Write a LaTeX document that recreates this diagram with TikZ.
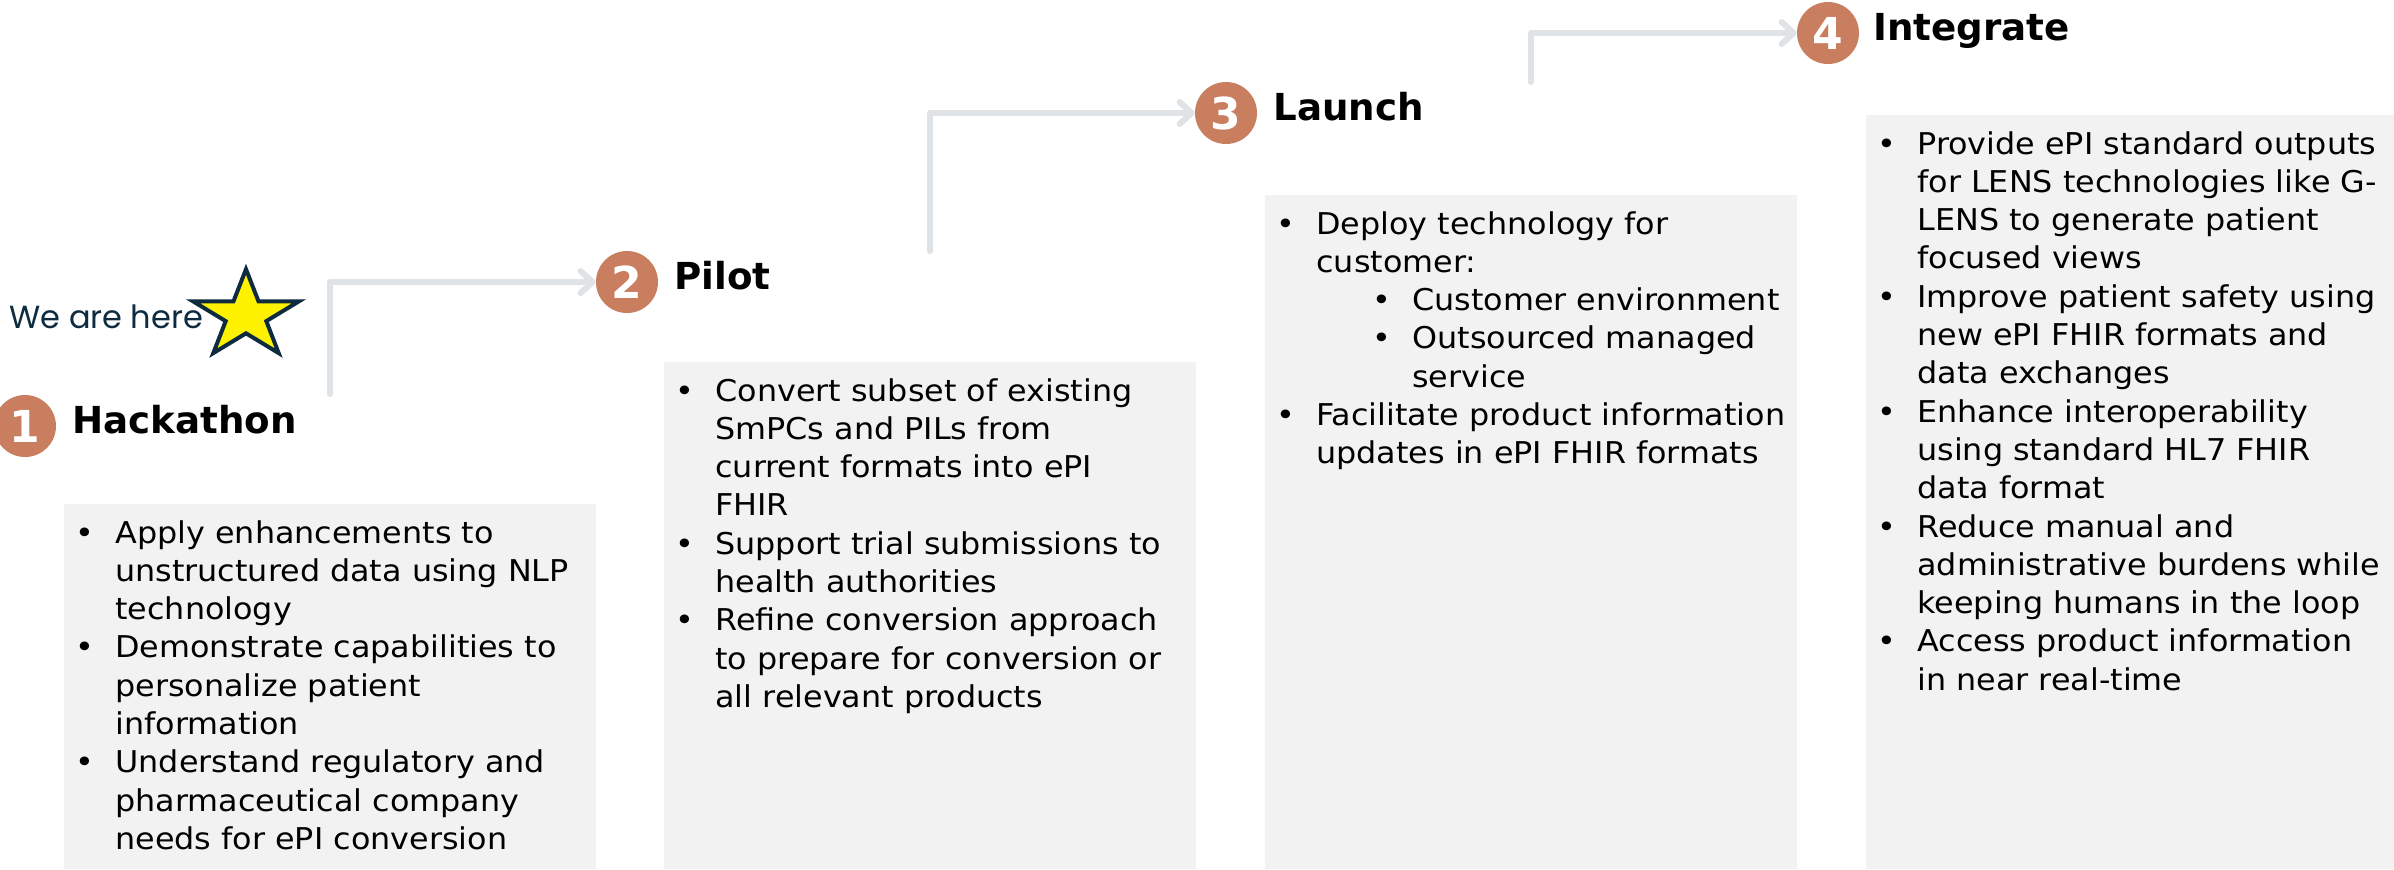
\documentclass[tikz,border=0pt]{standalone}
\usepackage{fontspec}
\setmainfont{DejaVu Sans}[FakeStretch=1.06]
\newfontfamily\headfont{DejaVu Sans}
\newfontfamily\herefont{Poppins}
\usetikzlibrary{arrows.meta}
\definecolor{terra}{HTML}{C97E60}
\definecolor{arrowgray}{HTML}{DFE3E6}
\definecolor{boxgray}{HTML}{F2F2F2}
\definecolor{navy}{HTML}{0E2B40}
\newcommand{\bl}{\par\hangindent=20pt\hangafter=1\noindent\makebox[20pt][l]{•}}
\newcommand{\sbl}{\par\hangindent=68pt\hangafter=1\noindent\hspace*{48pt}\makebox[20pt][l]{•}}
\newcommand{\bodytext}[1]{\parbox[t]{300pt}{\fontsize{15pt}{19.15pt}\selectfont\parskip=0pt\parindent=0pt #1}}
\tikzset{
  stagebox/.style={fill=boxgray, draw=none, inner sep=0, anchor=north west, minimum width=266pt},
  bodynode/.style={anchor=base west, inner sep=0, text=black},
  head/.style={anchor=base west, inner sep=0, text=black, font=\headfont\bfseries\fontsize{18.6pt}{18.6pt}\selectfont},
  num/.style={circle, fill=terra, minimum size=31pt, inner sep=0, text=white, font=\headfont\bfseries\fontsize{22pt}{22pt}\selectfont},
  conn/.style={draw=arrowgray, line width=3pt, line join=round, line cap=round, -{Straight Barb[length=6pt, width=11pt, round]}},
  starline/.style={draw=navy, fill=yellow, line width=2pt, line join=miter}
}
\begin{document}
\begin{tikzpicture}[x=0.5pt, y=-0.5pt]
\path[fill=white] (0,0) rectangle (2394,869);
\useasboundingbox (0,0) rectangle (2394,869);

% boxes
\node[stagebox, minimum height=182.5pt] (b1) at (64,504) {};
\node[stagebox, minimum height=253.5pt] (b2) at (664,362) {};
\node[stagebox, minimum height=337pt] (b3) at (1265,195) {};
\node[stagebox, minimum height=377pt] (b4) at (1866,115) {};

% connectors
\coordinate (s1) at (330,394);
\coordinate (s2) at (930,251);
\coordinate (s3) at (1531,82);

% number circles
\node[num] (c1) at (25,426) {1};
\node[num] (c2) at (627,282) {2};
\node[num] (c3) at (1226,113) {3};
\node[num] (c4) at (1828,33) {4};

\draw[conn] (s1) |- (c2.west);
\draw[conn] (s2) |- (c3.west);
\draw[conn] (s3) |- (c4.west);

% headings
\node[head] (h1) at (72,433) {Hackathon};
\node[head] (h2) at (674,289) {Pilot};
\node[head] (h3) at (1273,120) {Launch};
\node[head] (h4) at (1873,40) {Integrate};

% we are here + star
\node[anchor=base west, inner sep=0, text=navy, font=\herefont\fontsize{16pt}{16pt}\selectfont] (here) at (9,328) {We are here};
\draw[starline] (246,269.2) -- (258.5,301.3) -- (299.0,301.3) -- (266.3,321.1) -- (278.7,353.1)
  -- (246,333.3) -- (213.3,353.1) -- (225.7,321.1) -- (193.0,301.3) -- (233.5,301.3) -- cycle;

% texts
\node[bodynode] (t1) at (75,543) {\bodytext{%
\bl Apply enhancements to\\unstructured data using NLP\\technology
\bl Demonstrate capabilities to\\personalize patient\\information
\bl Understand regulatory and\\pharmaceutical company\\needs for ePI conversion}};

\node[bodynode] (t2) at (675,401) {\bodytext{%
\bl Convert subset of existing\\SmPCs and PILs from\\current formats into ePI\\FHIR
\bl Support trial submissions to\\health authorities
\bl Refine conversion approach\\to prepare for conversion or\\all relevant products}};

\node[bodynode] (t3) at (1276,234) {\bodytext{%
\bl Deploy technology for\\customer:
\sbl Customer environment
\sbl Outsourced managed\\service
\bl Facilitate product information\\updates in ePI FHIR formats}};

\node[bodynode] (t4) at (1877,154) {\bodytext{%
\bl Provide ePI standard outputs\\for LENS technologies like G-\\LENS to generate patient\\focused views
\bl Improve patient safety using\\new ePI FHIR formats and\\data exchanges
\bl Enhance interoperability\\using standard HL7 FHIR\\data format
\bl Reduce manual and\\administrative burdens while\\keeping humans in the loop
\bl Access product information\\in near real-time}};
\end{tikzpicture}
\end{document}
